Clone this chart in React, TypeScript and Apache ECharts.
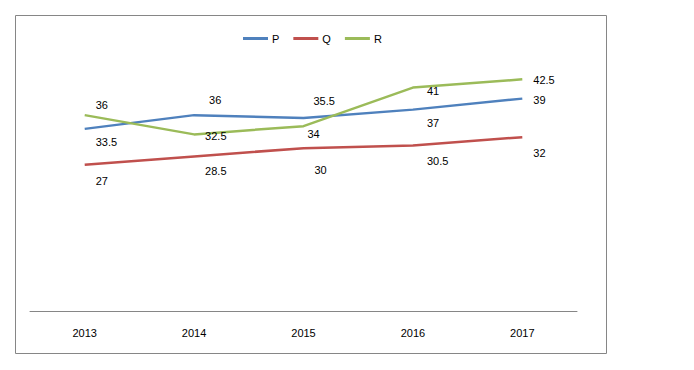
import React, { useEffect, useRef } from "react";
import * as echarts from "echarts";

const categories = ["2013", "2014", "2015", "2016", "2017"];
const seriesP = [33.5, 36, 35.5, 37, 39];
const seriesQ = [27, 28.5, 30, 30.5, 32];
const seriesR = [36, 32.5, 34, 41, 42.5];

// label offsets (layout only): [dx from point to label left edge, dy]
const offsP = [[11, 13], [15, -15], [10, -17], [14, 13], [11, 1]];
const offsQ = [[11, 16], [11, 15], [11, 22], [14, 16], [11, 16]];
const offsR = [[11, -10], [11, 2], [4, 8], [14, 3], [11, 1]];

const FONT = "'Liberation Sans', Arial, sans-serif";

function mk(name: string, values: number[], offs: number[][], color: string) {
  return {
    name,
    type: "line",
    data: values.map((v, i) => ({
      value: v,
      label: { offset: offs[i] },
    })),
    symbol: "circle",
    symbolSize: 0.01,
    showSymbol: true,
    lineStyle: { color, width: 2.5 },
    itemStyle: { color },
    label: {
      show: true,
      position: "right",
      distance: 0,
      align: "left",
      verticalAlign: "middle",
      color: "#000",
      fontSize: 11,
      fontFamily: FONT,
    },
  };
}

export default function App() {
  const ref = useRef<HTMLDivElement>(null);
  useEffect(() => {
    const chart = echarts.init(ref.current!, null, { renderer: "svg" });
    chart.setOption({
      animation: false,
      backgroundColor: "#fff",
      graphic: [
        {
          type: "rect",
          shape: { x: 15.5, y: 15.5, width: 591, height: 338 },
          style: { fill: "none", stroke: "#868686", lineWidth: 1 },
          silent: true,
        },
      ],
      legend: {
        data: ["P", "Q", "R"],
        left: 238,
        top: 28,
        itemWidth: 25,
        itemHeight: 3,
        itemGap: 14,
        icon: "rect",
        textStyle: { color: "#000", fontSize: 11, fontFamily: FONT, padding: [0, 0, 0, -1] },
      },
      grid: { left: 30, right: 117, top: 37, bottom: 59 },
      xAxis: {
        type: "category",
        data: categories,
        boundaryGap: true,
        axisLine: { lineStyle: { color: "#868686", width: 1 } },
        axisTick: { show: false },
        axisLabel: { color: "#000", fontSize: 11, fontFamily: FONT, margin: 16 },
      },
      yAxis: {
        type: "value",
        min: 0.4,
        max: 50.2,
        show: false,
        splitLine: { show: false },
      },
      series: [
        mk("P", seriesP, offsP, "#4F81BD"),
        mk("Q", seriesQ, offsQ, "#C0504D"),
        mk("R", seriesR, offsR, "#9BBB59"),
      ],
    });
    return () => chart.dispose();
  }, []);
  return (
    <div
      ref={ref}
      style={{ position: "fixed", left: 0, top: 0, width: 694, height: 370 }}
    />
  );
}
